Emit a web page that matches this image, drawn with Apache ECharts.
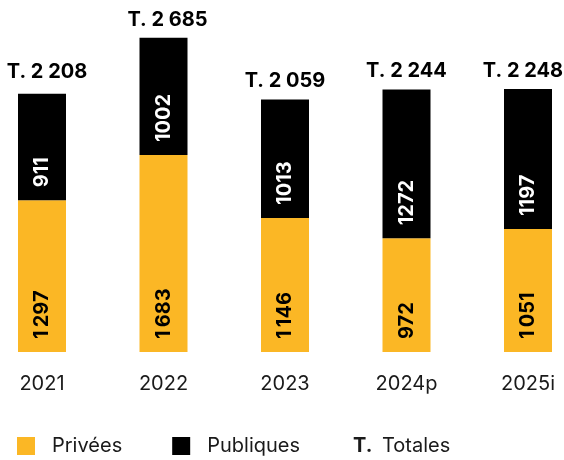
<!DOCTYPE html>
<html><head><meta charset="utf-8">
<script src="https://cdn.jsdelivr.net/npm/echarts@6/dist/echarts.min.js"></script>
<style>html,body{margin:0;padding:0;background:#fff}#c{width:564px;height:460px}</style>
</head><body><div id="c"></div>
<script>
const categories = ['2021', '2022', '2023', '2024p', '2025i'];
const privees = [1297, 1683, 1146, 972, 1051];
const publiques = [911, 1002, 1013, 1272, 1197];
const priveesLabels = ['1\u202F297', '1\u202F683', '1\u202F146', '972', '1\u202F051'];
const publiquesLabels = ['911', '1002', '1013', '1272', '1197'];
const totalLabels = ['T. 2 208', 'T. 2 685', 'T. 2 059', 'T. 2 244', 'T. 2 248'];

const FONT = 'Inter, "Noto Sans", sans-serif';
const YELLOW = '#FBB725';
const TOTAL_NUDGE = [[5, -4], [4, 0], [0, 0], [0, 0], [-5, 0]];
const chart = echarts.init(document.getElementById('c'));
const inner = (color, labels) => ({
  show: true, position: 'insideBottom', rotate: 90, distance: 13,
  align: 'left', verticalAlign: 'middle',
  color: color, fontFamily: FONT, fontWeight: 'bold', fontSize: 20,
  formatter: p => labels[p.dataIndex]
});
chart.setOption({
  animation: false,
  grid: { left: 42, right: 36, top: 1, bottom: 108, containLabel: false },
  xAxis: {
    type: 'category', data: categories, boundaryGap: false,
    axisLine: { show: false }, axisTick: { show: false }, splitLine: { show: false },
    axisLabel: { margin: 22, fontSize: 20, color: '#1a1a1a', fontFamily: FONT }
  },
  yAxis: { type: 'value', min: 0, max: 3000, show: false, splitLine: { show: false } },
  legend: {
    left: 17, top: 436, padding: 0, itemWidth: 18, itemHeight: 18, itemGap: 50, icon: 'rect',
    textStyle: { fontSize: 20, color: '#1a1a1a', fontFamily: FONT, padding: [0, 0, 0, 12] },
    data: ['Privées', 'Publiques']
  },
  graphic: [
    { type: 'text', left: 353, top: 436, style: { text: 'T.', font: 'bold 20px ' + FONT, fill: '#1a1a1a' } },
    { type: 'text', left: 382, top: 436, style: { text: 'Totales', font: '20px ' + FONT, fill: '#1a1a1a' } }
  ],
  series: [
    { name: 'Privées', type: 'bar', stack: 't', barWidth: 48, clip: false, data: privees,
      itemStyle: { color: YELLOW }, label: inner('#000', priveesLabels) },
    { name: 'Publiques', type: 'bar', stack: 't', barWidth: 48, clip: false, data: publiques,
      itemStyle: { color: '#000' }, label: inner('#fff', publiquesLabels) },
    { name: 'Totales', type: 'bar', stack: 't', barWidth: 48, clip: false,
      data: categories.map((c, i) => ({ value: 0, label: { offset: TOTAL_NUDGE[i] } })),
      itemStyle: { color: 'transparent' },
      label: { show: true, position: 'top', distance: 8,
        color: '#000', fontFamily: FONT, fontWeight: 'bold', fontSize: 20,
        formatter: p => totalLabels[p.dataIndex] } }
  ]
});
</script></body></html>
